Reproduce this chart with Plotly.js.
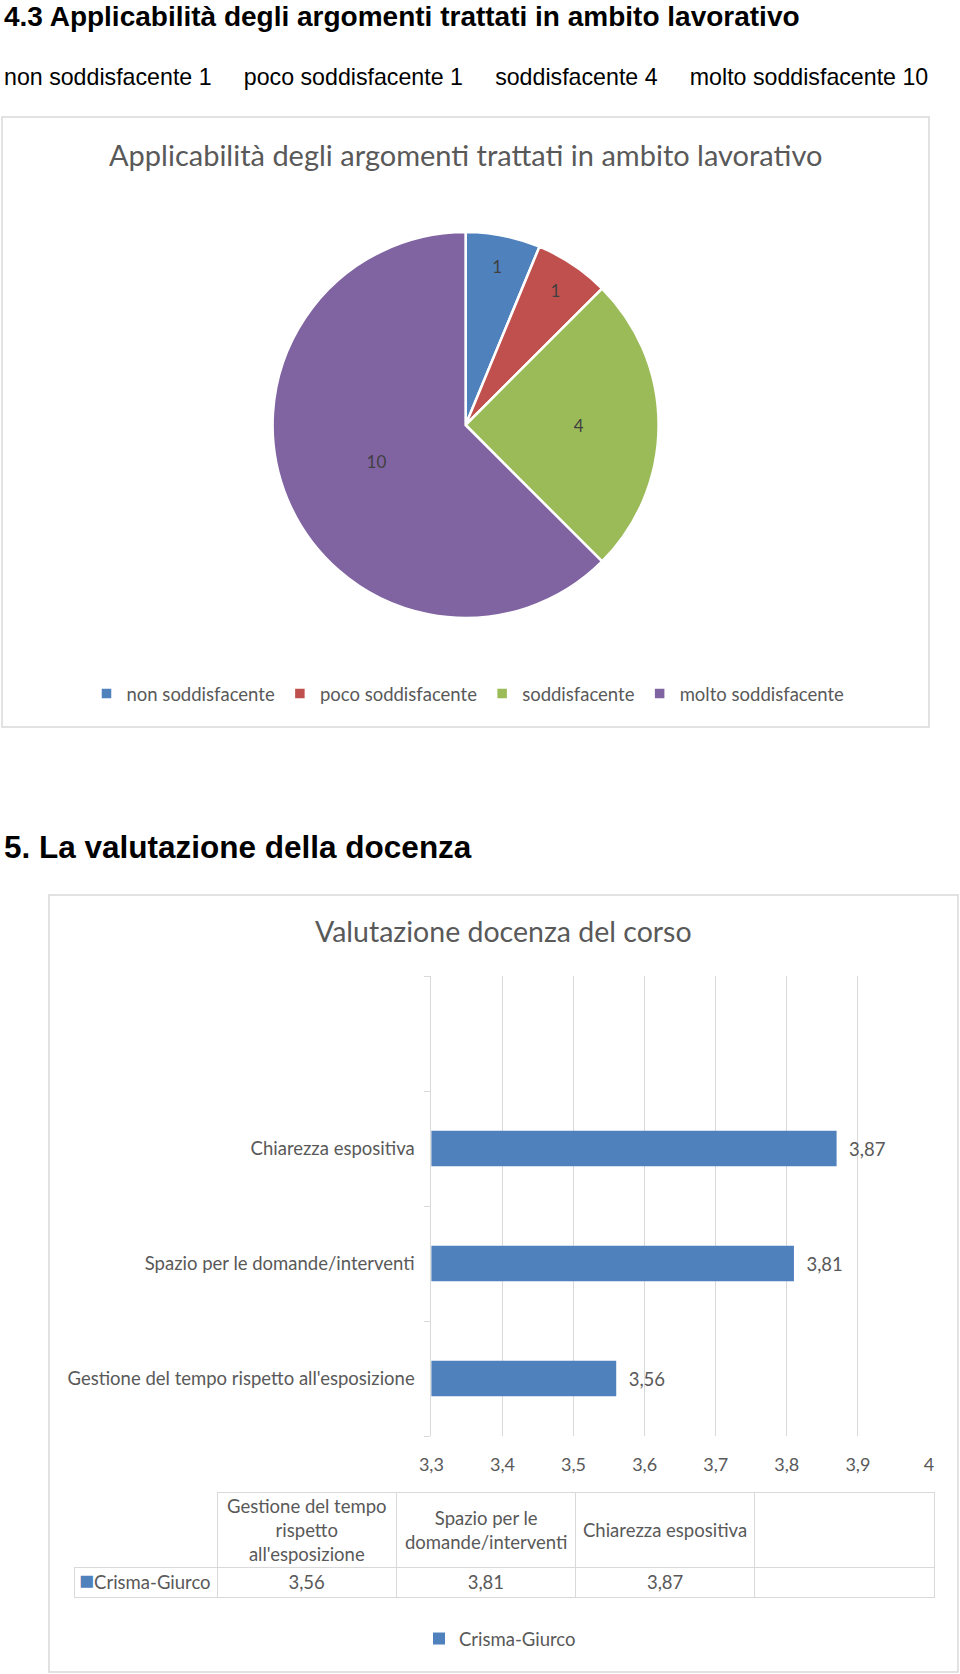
<!DOCTYPE html>
<html>
<head>
<meta charset="utf-8">
<script src="https://cdn.plot.ly/plotly-3.0.1.min.js"></script>
<style>
html,body{margin:0;padding:0;background:#fff;}
#chart{width:960px;height:1674px;}
</style>
</head>
<body>
<div id="chart"></div>
<script>
// ---- data ----
var pieLabels = ['non soddisfacente', 'poco soddisfacente', 'soddisfacente', 'molto soddisfacente'];
var pieValues = [1, 1, 4, 10];
var pieColors = ['#4F81BD', '#C0504D', '#9BBB59', '#8064A2'];

var barCategories = ["Gestione del tempo rispetto all'esposizione", 'Spazio per le domande/interventi', 'Chiarezza espositiva'];
var barValues = [3.56, 3.81, 3.87];
var barSeriesName = 'Crisma-Giurco';
var barColor = '#4F81BD';
var emptyCategory = '\u00a0';
var tableHeaderLabels = ["Gestione del tempo<br>rispetto<br>all'esposizione", 'Spazio per le<br>domande/interventi', 'Chiarezza espositiva', ''];

var heading1 = '4.3 Applicabilità degli argomenti trattati in ambito lavorativo';
var heading2 = '5. La valutazione della docenza';
var pieTitle = 'Applicabilità degli argomenti trattati in ambito lavorativo';
var barTitle = 'Valutazione docenza del corso';

// ---- helpers ----
var W = 960, H = 1674;
function px(x){ return x / W; }
function py(y){ return 1 - y / H; }
function fmt(v){ return v.toFixed(2).replace('.', ','); }

var FONT = 'Lato, "Open Sans", sans-serif';
var HFONT = '"Liberation Sans Narrow", "Arial Narrow", "Liberation Sans", Arial, sans-serif';
var GRID = '#d9d9d9';
var TXT = '#595959';
var FS = 18.5;

var subtitle = pieLabels.map(function(l, i){ return l + ' ' + pieValues[i]; }).join('\u00a0\u00a0\u00a0\u00a0\u00a0');

var pieTrace = {
  type: 'pie',
  labels: pieLabels,
  values: pieValues,
  marker: {colors: pieColors, line: {color: '#ffffff', width: 2.5}},
  sort: false,
  direction: 'clockwise',
  rotation: 0,
  textinfo: 'value',
  textposition: 'inside',
  insidetextorientation: 'horizontal',
  textfont: {family: FONT, size: 17, color: '#404040'},
  hoverinfo: 'label+value',
  domain: {x: [px(272.6), px(658.6)], y: [py(618), py(232)]},
  legend: 'legend',
  showlegend: true
};

var barTrace = {
  type: 'bar',
  orientation: 'h',
  name: barSeriesName,
  y: barCategories,
  x: barValues,
  marker: {color: barColor},
  width: 0.31,
  text: barValues.map(function(v){ return '\u00a0\u00a0' + fmt(v); }),
  textposition: 'outside',
  textfont: {family: FONT, size: FS, color: TXT},
  cliponaxis: false,
  xaxis: 'x',
  yaxis: 'y',
  legend: 'legend2',
  showlegend: true
};

// data table: columns 1..4 (header + value row)
var TBL_X0 = 217, TBL_X1 = 934, ROWLBL_X0 = 74;
var HDR_Y0 = 1492, HDR_Y1 = 1567, ROW_Y1 = 1597;
var nCols = tableHeaderLabels.length;

var tableTrace = {
  type: 'table',
  domain: {x: [px(TBL_X0), px(TBL_X1)], y: [py(1620), py(HDR_Y0)]},
  header: {
    values: tableHeaderLabels.map(function(){ return ['']; }),
    height: HDR_Y1 - HDR_Y0,
    align: 'center',
    line: {color: GRID, width: 1},
    fill: {color: '#ffffff'},
    font: {family: FONT, size: FS, color: TXT}
  },
  cells: {
    values: barValues.map(fmt).concat(['']).map(function(v){ return [v]; }),
    height: ROW_Y1 - HDR_Y1,
    align: 'center',
    line: {color: GRID, width: 1},
    fill: {color: '#ffffff'},
    font: {family: FONT, size: FS, color: TXT}
  }
};

// row label cell
var rowLabelTrace = {
  type: 'table',
  domain: {x: [px(ROWLBL_X0), px(TBL_X0)], y: [py(1620), py(HDR_Y1)]},
  header: {
    values: [['']],
    height: ROW_Y1 - HDR_Y1,
    align: 'left',
    line: {color: GRID, width: 1},
    fill: {color: '#ffffff'},
    font: {family: FONT, size: FS, color: TXT}
  },
  cells: {values: []}
};

var annotations = [
  {text: '<b>' + heading1 + '</b>', xref: 'paper', yref: 'paper', x: px(2), y: py(17), xanchor: 'left', yanchor: 'middle', showarrow: false, font: {family: HFONT, size: 28, color: '#000000'}},
  {text: subtitle, xref: 'paper', yref: 'paper', x: px(2), y: py(77), xanchor: 'left', yanchor: 'middle', showarrow: false, font: {family: HFONT, size: 23.2, color: '#000000'}},
  {text: pieTitle, xref: 'paper', yref: 'paper', x: px(465), y: py(155), xanchor: 'center', yanchor: 'middle', showarrow: false, font: {family: FONT, size: 29, color: TXT}},
  {text: '<b>' + heading2 + '</b>', xref: 'paper', yref: 'paper', x: px(2), y: py(847), xanchor: 'left', yanchor: 'middle', showarrow: false, font: {family: HFONT, size: 31.5, color: '#000000'}},
  {text: barTitle, xref: 'paper', yref: 'paper', x: px(503), y: py(931), xanchor: 'center', yanchor: 'middle', showarrow: false, font: {family: FONT, size: 28.5, color: TXT}},
  {text: '<span style="color:' + barColor + ';font-size:25px">\u25A0</span>' + barSeriesName, xref: 'paper', yref: 'paper', x: px(ROWLBL_X0 + 3), y: py((HDR_Y1 + ROW_Y1) / 2 - 3), xanchor: 'left', yanchor: 'middle', showarrow: false, font: {family: FONT, size: FS, color: TXT}}
];
// table header texts, centred line by line in each column
var colW = (TBL_X1 - TBL_X0) / nCols;
tableHeaderLabels.forEach(function(h, i){
  if (!h) return;
  annotations.push({text: h, xref: 'paper', yref: 'paper', x: px(TBL_X0 + colW * (i + 0.5)), y: py((HDR_Y0 + HDR_Y1) / 2),
    xanchor: 'center', yanchor: 'middle', align: 'center', showarrow: false, font: {family: FONT, size: FS, color: TXT}});
});

var layout = {
  width: W,
  height: H,
  margin: {l: 0, r: 0, t: 0, b: 0},
  paper_bgcolor: '#ffffff',
  plot_bgcolor: '#ffffff',
  separators: ',.',
  font: {family: FONT, color: TXT, size: FS},
  xaxis: {
    domain: [px(431.4), px(929)],
    anchor: 'y',
    range: [3.3, 4],
    tick0: 3.3,
    dtick: 0.1,
    showgrid: true,
    gridcolor: GRID,
    gridwidth: 1,
    zeroline: false,
    showline: false,
    ticks: '',
    ticklabelstandoff: 16,
    tickfont: {family: FONT, size: 18, color: TXT},
    fixedrange: true
  },
  yaxis: {
    domain: [py(1436), py(976)],
    anchor: 'x',
    type: 'category',
    categoryorder: 'array',
    categoryarray: barCategories.concat([emptyCategory]),
    range: [-0.5, 3.5],
    showgrid: false,
    showline: true,
    linecolor: GRID,
    linewidth: 1,
    ticks: 'outside',
    tickson: 'boundaries',
    ticklen: 6,
    tickcolor: GRID,
    ticklabelstandoff: 12,
    tickfont: {family: FONT, size: FS, color: TXT},
    fixedrange: true
  },
  legend: {
    orientation: 'h',
    x: px(468), xanchor: 'center',
    y: py(694), yanchor: 'middle',
    font: {family: FONT, size: FS, color: TXT},
    itemclick: false, itemdoubleclick: false,
    bgcolor: 'rgba(0,0,0,0)'
  },
  legend2: {
    orientation: 'h',
    x: px(500), xanchor: 'center',
    y: py(1639), yanchor: 'middle',
    font: {family: FONT, size: FS, color: TXT},
    itemclick: false, itemdoubleclick: false,
    bgcolor: 'rgba(0,0,0,0)'
  },
  shapes: [
    {type: 'rect', xref: 'paper', yref: 'paper', x0: px(2), x1: px(929), y0: py(727), y1: py(117), line: {color: GRID, width: 1.5}, fillcolor: 'rgba(0,0,0,0)', layer: 'below'},
    {type: 'rect', xref: 'paper', yref: 'paper', x0: px(49), x1: px(958), y0: py(1672), y1: py(895), line: {color: GRID, width: 1.5}, fillcolor: 'rgba(0,0,0,0)', layer: 'below'}
  ],
  annotations: annotations
};

Plotly.newPlot('chart', [pieTrace, barTrace, tableTrace, rowLabelTrace], layout, {displayModeBar: false});
</script>
</body>
</html>
